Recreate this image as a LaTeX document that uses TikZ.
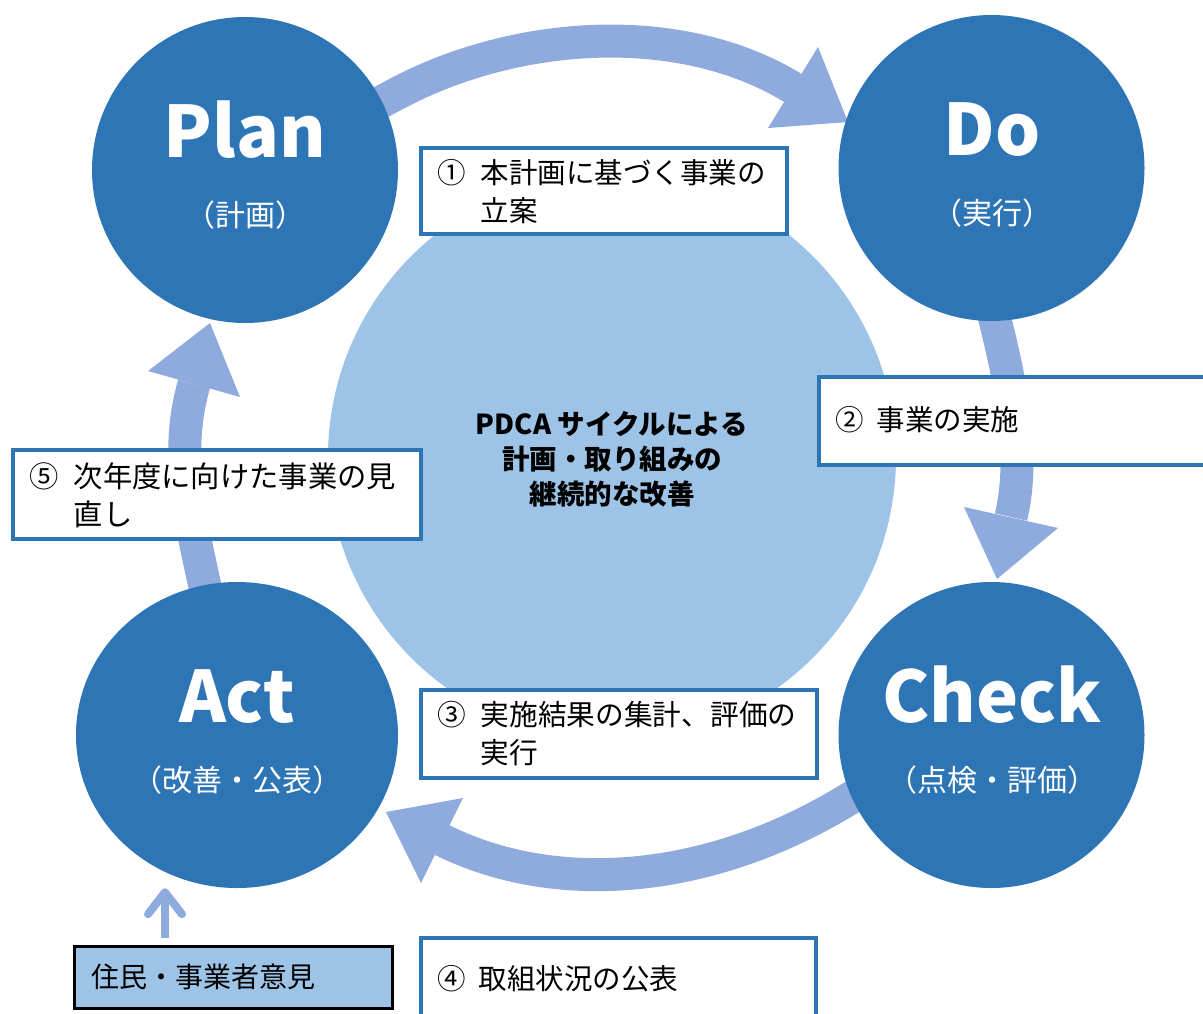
\documentclass[tikz,border=0pt]{standalone}
\usepackage{fontspec}
\setmainfont{Noto Sans CJK JP}
\usetikzlibrary{shapes.geometric,arrows.meta}
\definecolor{dk}{HTML}{2E75B6}
\definecolor{lt}{HTML}{9DC3E6}
\definecolor{ar}{HTML}{8FAADC}
\newcommand\boxlower[2]{\raisebox{0pt}[\dimexpr\height+#1\relax][\depth]{#2}}
\begin{document}
\begin{tikzpicture}[x=1pt,y=-1pt,
  shaft/.style={draw=ar, line width=33pt},
  head/.style={fill=ar},
  bigc/.style={circle, fill=dk, minimum size=306pt, inner sep=0pt},
  ttl/.style={text=white, font=\fontsize{71}{80}\selectfont\bfseries, anchor=base},
  sub/.style={text=white, font=\fontsize{30}{34}\selectfont, anchor=base},
  tbox/.style={draw=dk, line width=3.5pt, fill=white, anchor=north west, inner xsep=17pt, inner ysep=0pt, align=left, font=\fontsize{28.5}{38}\selectfont},
]
\useasboundingbox (0,0) rectangle (1203,1013);
\fill[white] (0,0) rectangle (1203,1013);

% central circle
\node[circle, fill=lt, minimum size=568pt, inner sep=0pt] (pdca) at (612,457) {};
\node[font=\fontsize{27.5}{35}\selectfont\bfseries, align=center] (pdcaT) at (612,459) {PDCA サイクルによる\\計画・取り組みの\\継続的な改善};

% cycle arrows
\coordinate (a1s) at (345,121); \coordinate (a1m) at (400,92); \coordinate (a1e) at (793,88);
\draw[shaft] (a1s) -- (a1m) .. controls (517,31) and (680,19) .. (a1e);
\fill[head] (818,47) -- (848,122) -- (768,128) -- cycle;

\coordinate (a2s) at (990,300); \coordinate (a2e) at (1011,517);
\draw[shaft] (a2s) .. controls (1008,370) and (1027,450) .. (a2e);
\fill[head] (964,507) -- (1058,528) -- (997,579) -- cycle;

\coordinate (a3s) at (880,780); \coordinate (a3m) at (860,792); \coordinate (a3e) at (442,840);
\draw[shaft] (a3s) -- (a3m) .. controls (717,884) and (559,898) .. (a3e);
\fill[head] (463,798) -- (421,883) -- (386,812) -- cycle;

\coordinate (a4s) at (215,640); \coordinate (a4m) at (210,610); \coordinate (a4e) at (194,384);
\draw[shaft] (a4s) -- (a4m) .. controls (194,532) and (172,461) .. (a4e);
\fill[head] (148,371) -- (240,397) -- (210,323) -- cycle;

% four stage circles
\node[bigc] (plan) at (245,170) {};
\node[ttl] (planT) at (245,157) {Plan};
\node[sub] (planS) at (245,226) {（計画）};

\node[bigc] (do) at (991.5,168) {};
\node[ttl] (doT) at (992,155) {Do};
\node[sub] (doS) at (992,224) {（実行）};

\node[bigc] (check) at (991.5,735) {};
\node[ttl] (checkT) at (992,722) {Check};
\node[sub] (checkS) at (992,791) {（点検・評価）};

\node[ellipse, fill=dk, minimum width=322pt, minimum height=306pt, inner sep=0pt] (act) at (237,735) {};
\node[ttl] (actT) at (237,722) {Act};
\node[sub] (actS) at (237,791) {（改善・公表）};

% step boxes
\node[tbox, minimum width=366pt, minimum height=86pt, text width=332pt] (b1) at (419,146)
  {\boxlower{8pt}{\begin{tabular}{@{}p{43pt}@{}l@{}}①&本計画に基づく事業の\\&立案\end{tabular}}};
\node[tbox, minimum width=398pt, minimum height=88pt, text width=364pt] (b2) at (817,375)
  {\boxlower{4pt}{\begin{tabular}{@{}p{41pt}@{}l@{}}②&事業の実施\end{tabular}}};
\node[tbox, minimum width=396pt, minimum height=88pt, text width=362pt, font=\fontsize{28.7}{38}\selectfont] (b3) at (419,688)
  {\boxlower{6pt}{\begin{tabular}{@{}p{43pt}@{}l@{}}③&実施結果の集計、評価の\\&実行\end{tabular}}};
\node[tbox, minimum width=395pt, minimum height=84pt, text width=361pt, inner xsep=13pt] (b4) at (419,936)
  {\boxlower{4pt}{\begin{tabular}{@{}p{41pt}@{}l@{}}④&取組状況の公表\end{tabular}}};
\node[tbox, minimum width=408pt, minimum height=89pt, text width=374pt, font=\fontsize{29.3}{38}\selectfont] (b5) at (11,448)
  {\boxlower{9pt}{\begin{tabular}{@{}p{44pt}@{}l@{}}⑤&次年度に向けた事業の見\\&直し\end{tabular}}};

% residents' opinions
\node[draw=black, line width=2.5pt, fill=lt, anchor=north west, minimum width=318pt, minimum height=62pt,
  text width=284pt, inner xsep=17pt, inner ysep=0pt, align=left, font=\fontsize{28}{34}\selectfont] (jumin) at (73,945) {住民・事業者意見};
\coordinate (ua) at (165,938);
\draw[draw=ar, line width=8pt, -{Straight Barb[length=22pt,width=34pt,round]}] (ua) -- (ua |- act.south);
\end{tikzpicture}
\end{document}
